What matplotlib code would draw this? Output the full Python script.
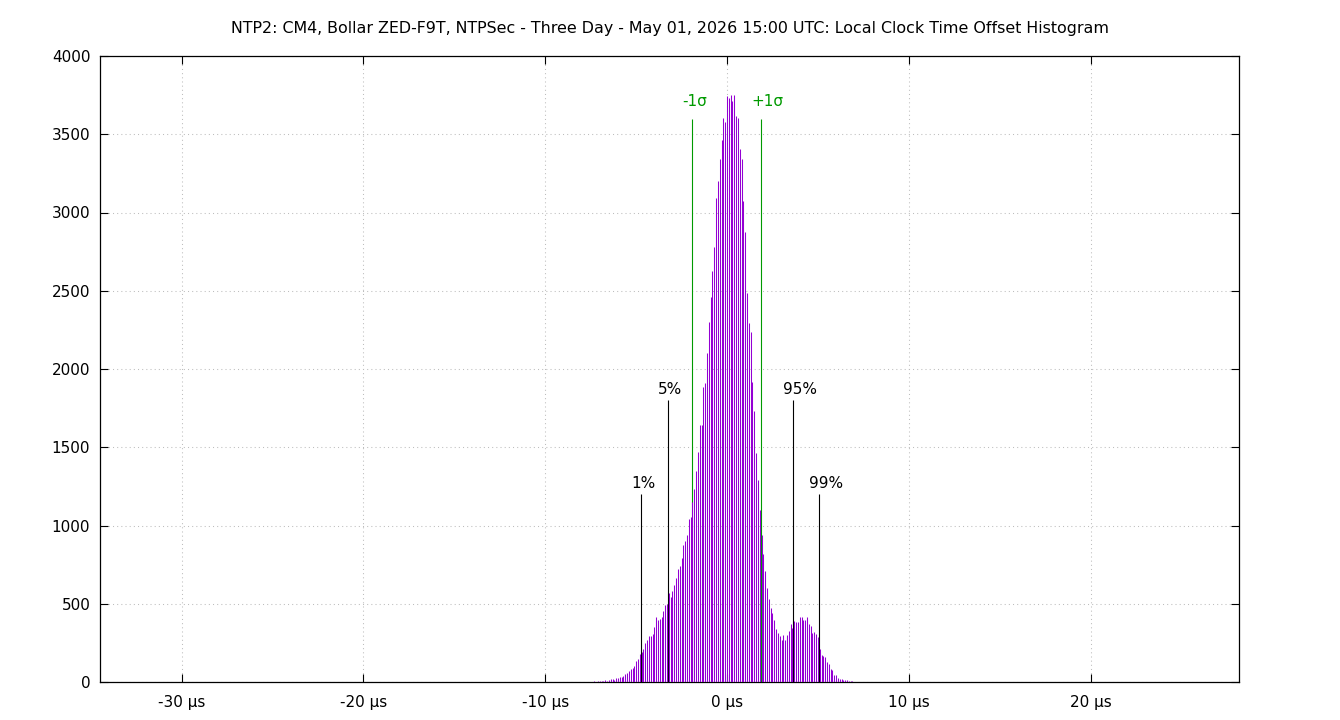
import numpy as np
import matplotlib
matplotlib.use("Agg")
import matplotlib.pyplot as plt

# --- histogram data: local clock offset, 0.1 us bins ---
bin_start = -7.7   # centre of first bin (us)
bin_width = 0.1
counts = [
    2, 1, 3, 2, 4, 3, 5, 4, 6, 5,
    13, 6, 10, 19, 19, 13, 24, 28, 30, 32,
    41, 52, 60, 73, 80, 92, 103, 137, 146, 180,
    190, 212, 249, 266, 292, 296, 307, 350, 414, 393,
    403, 416, 453,
    493, 500, 567, 542, 580, 617, 667, 724, 741, 791,
    878, 903, 940, 1040, 1052, 1150, 1234, 1351, 1468, 1642,
    1644, 1886, 1910, 2104, 2303, 2458, 2627, 2781, 3092, 3199,
    3341,
    3465, 3602, 3577, 3746, 3731, 3751, 3714, 3751, 3614, 3602,
    3408, 3341, 3075, 2876, 2483, 2291, 2234, 1915, 1731, 1463,
    1289, 1102, 940, 816, 711, 600, 530, 475, 438, 393,
    338, 313, 294, 269, 299, 269, 299, 323, 368, 348,
    388, 381, 381, 418, 413, 393, 393, 418, 368, 361,
    313, 318, 306, 289, 214, 174, 169, 157, 127, 114,
    82, 77, 45, 45, 27, 20, 20, 12, 12, 10,
    7, 5, 5,
]

# percentile / sigma markers
pct_labels = ["1%", "5%", "95%", "99%"]
pct_x = [-4.72, -3.27, 3.65, 5.07]
pct_h = [1200, 1800, 1800, 1200]

sig_labels = ["-1σ", "+1σ"]
sig_x = [-1.90, 1.89]
sig_h = [3600, 3600]

title = ("NTP2: CM4, Bollar ZED-F9T, NTPSec - Three Day - May 01, 2026 15:00 UTC: "
         "Local Clock Time Offset Histogram")
xticks = [-30, -20, -10, 0, 10, 20]
xtick_labels = ["%d µs" % t for t in xticks]
yticks = list(range(0, 4001, 500))

PURPLE = "#9400d3"
GREEN = "#009a00"

plt.rcParams["font.family"] = ["DejaVu Sans"]
plt.rcParams["font.size"] = 10

fig = plt.figure(figsize=(13.4, 7.2), dpi=100)
ax = fig.add_axes([100 / 1340, 1 - 682 / 720, 1139 / 1340, 626 / 720])

x = bin_start + bin_width * np.arange(len(counts))

# marker lines under the bars
ax.vlines(pct_x, 0, pct_h, colors="black", linewidth=0.8, zorder=2)
ax.vlines(sig_x, 0, sig_h, colors=GREEN, linewidth=0.8, zorder=2)
ax.vlines(x, 0, counts, colors=PURPLE, linewidth=0.75, zorder=3)

for lab, px, h in zip(pct_labels, pct_x, pct_h):
    ax.annotate(lab, (px, h), xytext=(-7.2, 4.3), textcoords="offset points",
                ha="left", va="baseline", color="black", fontsize=11)
for lab, px, h in zip(sig_labels, sig_x, sig_h):
    ax.annotate(lab, (px, h), xytext=(-7.2, 9.0), textcoords="offset points",
                ha="left", va="baseline", color=GREEN, fontsize=11)

ax.set_xlim(-34.49, 28.16)
ax.set_ylim(0, 4000)
ax.set_xticks(xticks)
ax.set_xticklabels(xtick_labels)
ax.set_yticks(yticks)

ax.grid(True, color="#bdbdbd", linestyle=(0, (1, 3)), linewidth=0.75, zorder=0)
ax.set_axisbelow(True)
ax.tick_params(direction="in", length=5.5, width=0.8, top=True, right=True,
               labelsize=11, pad=7)
ax.tick_params(axis="x", pad=9)
for sp in ax.spines.values():
    sp.set_linewidth(0.9)
    sp.set_color("black")

fig.text(0.5, 1 - 29 / 720, title, ha="center", va="center", fontsize=11.4)

fig.savefig("out.png", dpi=100)
